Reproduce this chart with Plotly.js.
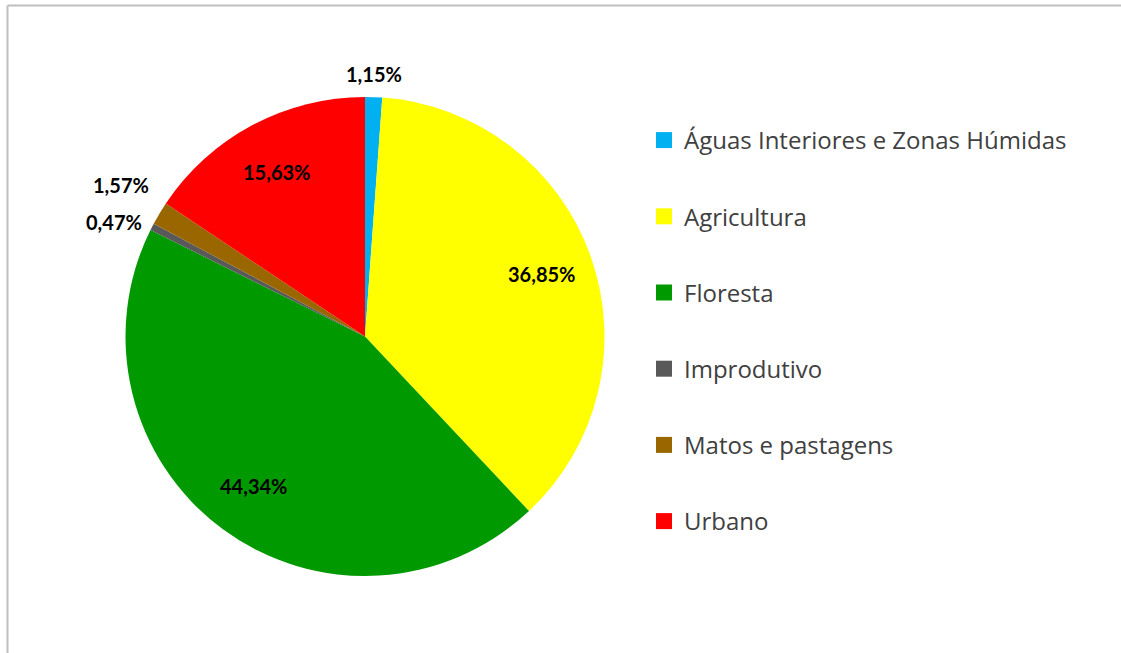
<!DOCTYPE html>
<html>
<head>
<meta charset="utf-8">
<script src="https://cdn.plot.ly/plotly-3.0.1.min.js"></script>
<style>html,body{margin:0;padding:0;background:#fff;}#chart{width:1121px;height:653px;}</style>
</head>
<body>
<div id="chart"></div>
<script>
const categories = ["Águas Interiores e Zonas Húmidas", "Agricultura", "Floresta", "Improdutivo", "Matos e pastagens", "Urbano"];
const shares = [1.15, 36.85, 44.34, 0.47, 1.57, 15.63];
const colors = ["#00B0F0", "#FFFF00", "#009900", "#595959", "#996600", "#FF0000"];
const labelInside = [false, true, true, false, false, true];

const W = 1121, H = 653;
const dom = {x: [125 / W, 605 / W], y: [1 - 576 / H, 1 - 97 / H]};

const pie = {
  type: 'pie',
  labels: categories,
  values: shares,
  sort: false,
  direction: 'clockwise',
  rotation: 0,
  marker: {colors: colors, line: {width: 0}},
  textinfo: 'none',
  hovertemplate: '%{label}: %{value:.2f}%<extra></extra>',
  showlegend: false,
  domain: {x: dom.x, y: dom.y}
};

const legendTraces = categories.map((c, i) => ({
  type: 'scatter', mode: 'markers', x: [null], y: [null], name: c,
  legendgroup: 'g' + i, showlegend: true,
  marker: {symbol: 'square', size: 16, color: colors[i]},
  hoverinfo: 'skip'
}));

// label annotations computed from the slice geometry
const cx = (dom.x[0] + dom.x[1]) / 2 * W;
const cy = (1 - (dom.y[0] + dom.y[1]) / 2) * H;
const R = Math.min((dom.x[1] - dom.x[0]) * W, (dom.y[1] - dom.y[0]) * H) / 2;
const total = shares.reduce((a, b) => a + b, 0);
let cum = 0;
const labs = shares.map((v, i) => {
  const mid = (cum + v / 2) / total * 2 * Math.PI;
  cum += v;
  const sx = Math.sin(mid), cyv = Math.cos(mid);
  const txt = v.toFixed(2).replace('.', ',') + '%';
  if (labelInside[i]) {
    const r = 0.78 * R;
    return {px: cx + sx * r, py: cy - cyv * r, xanchor: 'center', yanchor: 'middle', text: txt};
  }
  const r = 1.04 * R;
  let xa = 'center', ya = 'middle';
  if (sx < -0.3) xa = 'right'; else if (sx > 0.3) xa = 'left';
  if (cyv > 0.9) ya = 'bottom'; else if (cyv < -0.9) ya = 'top';
  return {px: cx + sx * r, py: cy - cyv * r, xanchor: xa, yanchor: ya, text: txt, outside: true, ang: mid};
});
// simple overlap avoidance for outside labels: push later ones upward
const outs = labs.filter(l => l.outside && l.xanchor === 'right').sort((a, b) => a.ang - b.ang);
for (let k = 1; k < outs.length; k++) {
  if (outs[k - 1].py - outs[k].py < 37) outs[k].py = outs[k - 1].py - 37;
}
const annotations = labs.map(l => ({
  xref: 'paper', yref: 'paper', x: l.px / W, y: 1 - l.py / H,
  xanchor: l.xanchor, yanchor: l.yanchor, text: '<b>' + l.text + '</b>', showarrow: false,
  font: {family: 'Lato, "Open Sans", sans-serif', size: 20, color: '#000000'}
}));

const layout = {
  width: W, height: H,
  margin: {l: 0, r: 0, t: 0, b: 0},
  paper_bgcolor: '#ffffff', plot_bgcolor: '#ffffff',
  xaxis: {visible: false, domain: [0.99, 1]},
  yaxis: {visible: false, domain: [0.99, 1]},
  showlegend: true,
  legend: {
    x: 644 / W, xanchor: 'left', y: 1 - 118 / H, yanchor: 'top',
    tracegroupgap: 42, itemclick: false,
    font: {family: '"Open Sans", Lato, sans-serif', size: 24, color: '#404040'}
  },
  annotations: annotations,
  shapes: [
    {type: 'line', xref: 'paper', yref: 'paper', x0: 7.5 / W, x1: 1, y0: 1 - 5.5 / H, y1: 1 - 5.5 / H, line: {color: '#BFBFBF', width: 2}},
    {type: 'line', xref: 'paper', yref: 'paper', x0: 7.5 / W, x1: 7.5 / W, y0: 0, y1: 1 - 5.5 / H, line: {color: '#BFBFBF', width: 2}}
  ]
};

Plotly.newPlot('chart', [pie].concat(legendTraces), layout, {displayModeBar: false, staticPlot: false});
</script>
</body>
</html>
